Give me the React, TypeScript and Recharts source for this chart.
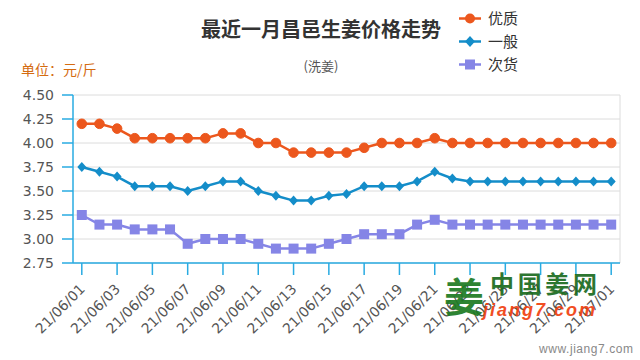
import React from "react";
import { LineChart, Line, CartesianGrid, XAxis, YAxis } from "recharts";

const days = [
  "21/06/01", "21/06/02", "21/06/03", "21/06/04", "21/06/05", "21/06/06", "21/06/07", "21/06/08",
  "21/06/09", "21/06/10", "21/06/11", "21/06/12", "21/06/13", "21/06/14", "21/06/15", "21/06/16",
  "21/06/17", "21/06/18", "21/06/19", "21/06/20", "21/06/21", "21/06/22", "21/06/23", "21/06/24",
  "21/06/25", "21/06/26", "21/06/27", "21/06/28", "21/06/29", "21/06/30", "21/07/01"
];

// 优质
const premium = [
  4.2, 4.2, 4.15, 4.05, 4.05, 4.05, 4.05, 4.05, 4.1, 4.1, 4.0, 4.0, 3.9, 3.9, 3.9, 3.9,
  3.95, 4.0, 4.0, 4.0, 4.05, 4.0, 4.0, 4.0, 4.0, 4.0, 4.0, 4.0, 4.0, 4.0, 4.0
];
// 一般
const regular = [
  3.75, 3.7, 3.65, 3.55, 3.55, 3.55, 3.5, 3.55, 3.6, 3.6, 3.5, 3.45, 3.4, 3.4, 3.45, 3.47,
  3.55, 3.55, 3.55, 3.6, 3.7, 3.63, 3.6, 3.6, 3.6, 3.6, 3.6, 3.6, 3.6, 3.6, 3.6
];
// 次货
const inferior = [
  3.25, 3.15, 3.15, 3.1, 3.1, 3.1, 2.95, 3.0, 3.0, 3.0, 2.95, 2.9, 2.9, 2.9, 2.95, 3.0,
  3.05, 3.05, 3.05, 3.15, 3.2, 3.15, 3.15, 3.15, 3.15, 3.15, 3.15, 3.15, 3.15, 3.15, 3.15
];

const yTicks = [2.75, 3.0, 3.25, 3.5, 3.75, 4.0, 4.25, 4.5];

const data = days.map((day, i) => ({
  day,
  premium: premium[i],
  regular: regular[i],
  inferior: inferior[i]
}));

const ORANGE = "#ec571d";
const BLUE = "#148dc9";
const PURPLE = "#8585e6";
const AXIS = "#29abe2";
const GRID = "#dcdcdc";
const NUM_FONT = "'DejaVu Sans', Verdana, sans-serif";
const CJK_FONT = "'Noto Sans CJK SC', sans-serif";

const circleDot = (p: any) => (
  <circle key={`c-${p.index}`} cx={p.cx} cy={p.cy} r={4.8} fill={ORANGE} stroke={ORANGE} strokeWidth={1} />
);

const diamondDot = (p: any) => (
  <path
    key={`d-${p.index}`}
    d={`M${p.cx},${p.cy - 5} L${p.cx + 4.5},${p.cy} L${p.cx},${p.cy + 5} L${p.cx - 4.5},${p.cy} Z`}
    fill={BLUE}
  />
);

const squareDot = (p: any) => (
  <rect key={`s-${p.index}`} x={p.cx - 5} y={p.cy - 5} width={10} height={10} fill={PURPLE} />
);

const XTick = ({ x, y, payload }: any) => (
  <g transform={`translate(${x + 4},${y + 15})`}>
    <text
      x={0}
      y={0}
      textAnchor='end'
      transform='rotate(-45)'
      fontSize={14}
      fontFamily={NUM_FONT}
      fill='#555'
    >
      {payload.value}
    </text>
  </g>
);

const verticalGen = ({ xAxis, offset }: any) => {
  const pts: number[] = [];
  if (xAxis && typeof xAxis.scale === "function") {
    days.forEach((d, i) => {
      if (i % 2 === 0) pts.push(xAxis.scale(d));
    });
  }
  pts.push(offset.left + offset.width);
  return pts;
};

const legendItems = [
  { name: "优质", color: ORANGE, shape: "circle" },
  { name: "一般", color: BLUE, shape: "diamond" },
  { name: "次货", color: PURPLE, shape: "square" }
];

const App = () => {
  return (
    <div style={{ position: "fixed", left: 0, top: 0, width: 640, height: 360, background: "#fff" }}>
      <LineChart width={640} height={360} data={data} margin={{ top: 95, right: 20, bottom: 0, left: 0 }}>
        <CartesianGrid stroke={GRID} strokeWidth={1} verticalCoordinatesGenerator={verticalGen} />
        <XAxis
          dataKey='day'
          interval={1}
          height={97}
          padding={{ left: 8.8, right: 8.8 }}
          axisLine={{ stroke: AXIS, strokeWidth: 1.5 }}
          tickLine={{ stroke: AXIS, strokeWidth: 1.5 }}
          tickSize={12}
          tickMargin={0}
          tick={<XTick />}
        />
        <YAxis
          width={73}
          domain={[2.75, 4.5]}
          ticks={yTicks}
          interval={0}
          axisLine={{ stroke: AXIS, strokeWidth: 1.5 }}
          tickLine={{ stroke: AXIS, strokeWidth: 1.5 }}
          tickSize={11}
          tickMargin={8}
          tick={{ fontSize: 14, fontFamily: NUM_FONT, fill: "#555" }}
          tickFormatter={(v) => Number(v).toFixed(2)}
        />
        <Line
          type='linear'
          dataKey='inferior'
          stroke={PURPLE}
          strokeWidth={2.5}
          dot={squareDot}
          isAnimationActive={false}
        />
        <Line
          type='linear'
          dataKey='regular'
          stroke={BLUE}
          strokeWidth={2.5}
          dot={diamondDot}
          isAnimationActive={false}
        />
        <Line
          type='linear'
          dataKey='premium'
          stroke={ORANGE}
          strokeWidth={2.5}
          dot={circleDot}
          isAnimationActive={false}
        />
      </LineChart>

      <svg
        width={640}
        height={360}
        style={{ position: "absolute", left: 0, top: 0, pointerEvents: "none" }}
      >
        <text x={321} y={36.5} textAnchor='middle' fontSize={20} fontWeight='bold' fontFamily={CJK_FONT} fill='#333'>
          最近一月昌邑生姜价格走势
        </text>
        <text x={321} y={71} textAnchor='middle' fontSize={13} fontFamily={CJK_FONT} fill='#555'>
          (洗姜)
        </text>
        <text x={21} y={75} fontSize={14} fontFamily={CJK_FONT} fill='#d46b10'>
          单位：元/斤
        </text>

        {legendItems.map((item, i) => {
          const cy = 18.5 + i * 23;
          return (
            <g key={item.name}>
              <line x1={459} x2={481} y1={cy} y2={cy} stroke={item.color} strokeWidth={2.5} />
              {item.shape === "circle" && <circle cx={470} cy={cy} r={5} fill={item.color} />}
              {item.shape === "diamond" && (
                <path d={`M470,${cy - 5.5} L475,${cy} L470,${cy + 5.5} L465,${cy} Z`} fill={item.color} />
              )}
              {item.shape === "square" && <rect x={465} y={cy - 5} width={10} height={10} fill={item.color} />}
              <text x={488} y={cy + 5.5} fontSize={15} fontFamily={CJK_FONT} fill='#333'>
                {item.name}
              </text>
            </g>
          );
        })}

        <g opacity={0.92}>
          <text x={444} y={312} fontSize={40} fontWeight='bold' fontFamily={CJK_FONT} fill='#1d7a22'>
            姜
          </text>
          <text x={490} y={293} fontSize={24} fontWeight='bold' fontFamily={CJK_FONT} fill='#1b6b1f' textLength={107}>
            中国姜网
          </text>
          <text
            x={483}
            y={316}
            fontSize={18}
            fontWeight='bold'
            fontStyle='italic'
            fontFamily="'Liberation Sans', Arial, sans-serif"
            fill='#f0400f'
            textLength={112}
          >
            jiang7.com
          </text>
        </g>
        <text x={539} y={353} fontSize={12} fontFamily="'Liberation Sans', Arial, sans-serif" fill='#888' textLength={94}>
          www.jiang7.com
        </text>
      </svg>
    </div>
  );
};

export default App;
